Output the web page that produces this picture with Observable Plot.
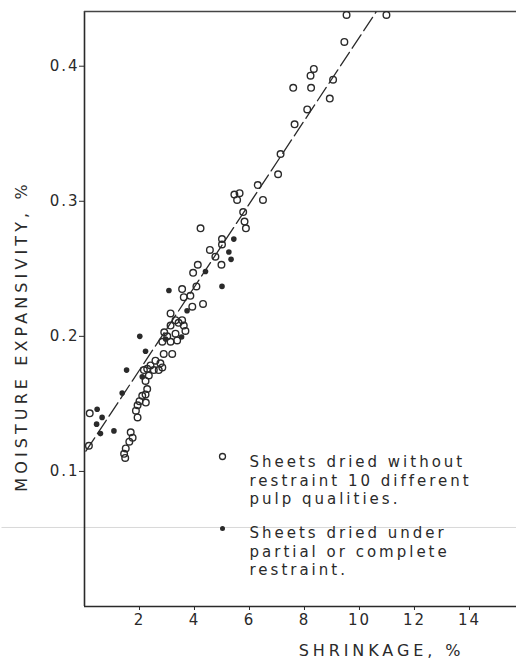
<!DOCTYPE html>
<html>
<head>
<meta charset="utf-8">
<script src="https://cdn.jsdelivr.net/npm/d3@7"></script>
<script src="https://cdn.jsdelivr.net/npm/@observablehq/plot@0.6"></script>
<style>
  html, body { margin: 0; padding: 0; background: #fff; }
  #chart { width: 516px; height: 659px; }
</style>
</head>
<body>
<div id="chart"></div>
<script>
// Sheets dried without restraint (open circles): [shrinkage %, moisture expansivity %]
const openPoints = [
  [9.53,0.438],[10.98,0.438],[9.45,0.418],[8.34,0.398],[8.22,0.393],[7.59,0.384],[8.24,0.384],
  [9.04,0.390],[8.92,0.376],[8.10,0.368],[7.64,0.357],[7.13,0.335],[7.04,0.320],[6.30,0.312],
  [6.49,0.301],[5.45,0.305],[5.64,0.306],[5.55,0.301],[5.77,0.292],[5.82,0.285],[5.87,0.280],
  [4.22,0.280],[5.00,0.272],[5.00,0.268],[4.56,0.264],[4.76,0.259],[4.98,0.253],[4.12,0.253],
  [3.95,0.247],[4.07,0.237],[3.55,0.235],[3.61,0.229],[3.85,0.230],[4.31,0.224],[3.92,0.222],
  [3.13,0.217],[3.31,0.212],[3.55,0.212],[3.61,0.208],[3.67,0.204],[3.13,0.208],[3.42,0.210],
  [3.31,0.202],[3.01,0.200],[2.83,0.196],[3.13,0.196],[3.37,0.197],[2.90,0.203],[2.88,0.187],
  [3.19,0.187],[2.58,0.182],[2.76,0.180],[2.40,0.1785],[2.52,0.175],[2.28,0.176],[2.70,0.175],
  [2.83,0.177],[2.16,0.175],[2.34,0.171],[2.22,0.167],[2.28,0.161],[2.22,0.157],[2.10,0.156],
  [2.23,0.151],[2.00,0.152],[1.93,0.149],[1.87,0.145],[1.93,0.140],[1.68,0.129],[1.75,0.125],
  [1.63,0.122],[1.50,0.117],[1.44,0.113],[1.48,0.110],[0.19,0.143],[0.16,0.119]
];
// Sheets dried under partial or complete restraint (filled dots)
const filledPoints = [
  [5.43,0.272],[5.25,0.2625],[5.33,0.257],[4.40,0.248],[5.00,0.237],[3.07,0.234],[3.53,0.1995],
  [3.73,0.219],[2.95,0.198],[2.01,0.200],[2.22,0.189],[2.10,0.170],[1.53,0.175],[1.37,0.158],
  [0.46,0.146],[0.64,0.140],[0.44,0.135],[0.58,0.128],[1.07,0.130]
];
// Fitted line end points
const fitLine = [[0.05,0.1150],[10.6,0.440]];
const xTicks = [2,4,6,8,10,12,14];
const yTicks = [0.1,0.2,0.3,0.4];
const xLabel = "SHRINKAGE, %";
const yLabel = "MOISTURE EXPANSIVITY, %";
const legendOpen = "Sheets dried without\nrestraint 10 different\npulp qualities.";
const legendFilled = "Sheets dried under\npartial or complete\nrestraint.";
const scanLine = [0.0585];

const ink = "#2a2a2a";
const font = "DejaVu Sans";

const plot = Plot.plot({
  width: 516,
  height: 659,
  marginLeft: 84,
  marginRight: 0,
  marginTop: 11,
  marginBottom: 53,
  x: {domain: [0, 15.71]},
  y: {domain: [0, 0.4405]},
  style: {fontFamily: font, fontSize: "15px", color: ink, background: "#fff", overflow: "visible"},
  marks: [
    Plot.ruleY(scanLine, {x1: -3.0, x2: 15.71, stroke: "#d8d8d8", strokeWidth: 1, clip: false}),
    Plot.ruleX([0], {stroke: ink, strokeWidth: 1.6}),
    Plot.ruleY([0], {stroke: ink, strokeWidth: 1.6}),
    Plot.ruleY([0.4405], {stroke: "#444", strokeWidth: 1.6}),
    Plot.axisX({ticks: xTicks, tickSize: 4, tickPadding: 4, tickFormat: d => String(d), label: null, stroke: ink, fontSize: 15}),
    Plot.axisY({ticks: yTicks, tickSize: 5, tickPadding: 0, tickFormat: d3.format(".1f"), label: null, stroke: ink, fontSize: 15}),
    Plot.line(fitLine, {x: d => d[0], y: d => d[1], stroke: ink, strokeWidth: 1.3, strokeDasharray: "16,5"}),
    Plot.dot(openPoints, {x: d => d[0], y: d => d[1], r: 3.3, stroke: ink, strokeWidth: 1.4, fill: "none"}),
    Plot.dot(filledPoints, {x: d => d[0], y: d => d[1], r: 2.8, fill: ink, stroke: "none"}),
    // legend
    Plot.dot([legendOpen], {frameAnchor: "top-left", dx: 138, dy: 445, r: 3, stroke: ink, strokeWidth: 1.3, fill: "none"}),
    Plot.dot([legendFilled], {frameAnchor: "top-left", dx: 138, dy: 517, r: 2.5, fill: ink, stroke: "none"}),
    Plot.text([legendOpen], {frameAnchor: "top-left", dx: 165, dy: 442, text: d => d, textAnchor: "start", lineAnchor: "top", lineHeight: 1.25, fontSize: 15, fill: ink}),
    Plot.text([legendFilled], {frameAnchor: "top-left", dx: 165, dy: 513, text: d => d, textAnchor: "start", lineAnchor: "top", lineHeight: 1.25, fontSize: 15, fill: ink}),
    // axis titles
    Plot.text([xLabel], {frameAnchor: "bottom", dx: 81, dy: 49, text: d => d, textAnchor: "middle", lineAnchor: "bottom", fontSize: 16, fill: ink}),
    Plot.text([yLabel], {frameAnchor: "left", dx: -58, dy: 27, rotate: -90, text: d => d, textAnchor: "middle", lineAnchor: "bottom", fontSize: 16, fill: ink})
  ]
});

const spacing = new Map([[xLabel, "3.9px"], [yLabel, "4.1px"]]);
d3.select(plot).selectAll("text").each(function() {
  const t = this.textContent;
  const el = d3.select(this);
  if (spacing.has(t)) el.style("letter-spacing", spacing.get(t));
  else if (/^[0-9.]+$/.test(t)) el.style("letter-spacing", "2px");
  else el.style("letter-spacing", "3px");
});
document.getElementById("chart").appendChild(plot);
</script>
</body>
</html>
